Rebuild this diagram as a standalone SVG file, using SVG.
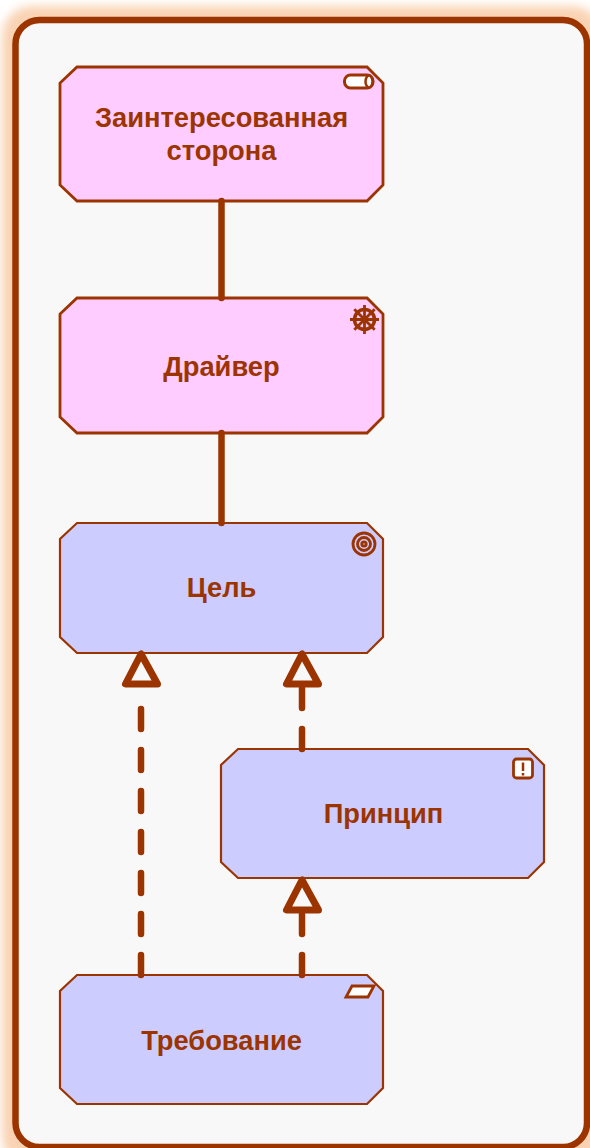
<svg xmlns="http://www.w3.org/2000/svg" width="590" height="1148" viewBox="0 0 590 1148">
<defs>
<style>
.n{stroke:#9C3400;stroke-width:2.5}
.p{fill:#FFCCFF;stroke-width:2.800}
.b{fill:#CCCCFF;stroke-width:2.200}
.t{font-family:"Liberation Sans",Arial,sans-serif;font-weight:bold;font-size:27.300px;fill:#9C3400;text-anchor:middle}
.i{fill:none;stroke:#9C3400;stroke-width:2.800}
.c{fill:none;stroke:#9C3400;stroke-width:6.500;stroke-linecap:round}
.d{stroke-dasharray:20 21}
.a{fill:none;stroke:#9C3400;stroke-width:7;stroke-linejoin:round}
</style>
<filter id="sh" x="-10%" y="-10%" width="120%" height="120%"><feGaussianBlur stdDeviation="5"/></filter>
</defs>
<rect x="2" y="6" width="600" height="1160" rx="30" fill="#F8C8A0" opacity="0.8" filter="url(#sh)"/>
<rect id="frame" x="15.500" y="20" width="571.500" height="1127" rx="24" fill="#F8F8F8" stroke="#9C3400" stroke-width="6.500"/>
<g id="stakeholder">
<path class="n p" d="M77 67H367L383 83V185L367 201H77L60 185V83Z"/>
<rect x="344.500" y="75" width="28.500" height="13" rx="6" fill="#fff" stroke="#9C3400" stroke-width="3"/>
<ellipse cx="369" cy="81.500" rx="3.500" ry="6" fill="#fff" stroke="#9C3400" stroke-width="2.500"/>
<text class="t" x="221.500" y="126.500">Заинтересованная</text>
<text class="t" x="221.500" y="159.500">сторона</text>
</g>
<g id="driver">
<path class="n p" d="M77 298H367L383 314V417L367 433H77L60 417V314Z"/>
<circle cx="364.500" cy="319.500" r="10" fill="none" stroke="#9C3400" stroke-width="3.500"/>
<path d="M364.500 305V334M350 319.500H379M354.300 309.300L374.700 329.700M374.700 309.300L354.300 329.700" fill="none" stroke="#9C3400" stroke-width="2.800"/>
<circle cx="364.500" cy="319.500" r="3.500" fill="#9C3400"/>
<text class="t" x="221.500" y="375.500">Драйвер</text>
</g>
<g id="goal">
<path class="n b" d="M77 523H367L383 539V637L367 653H77L60 637V539Z"/>
<circle class="i" cx="364" cy="544" r="11"/>
<circle class="i" cx="364" cy="544" r="6.500"/>
<circle class="i" cx="364" cy="544" r="2.200"/>
<text class="t" x="221.500" y="596.500">Цель</text>
</g>
<g id="principle">
<path class="n b" d="M238 749H528L544 765V862L528 878H238L221 862V765Z"/>
<rect x="513.500" y="759" width="19" height="19" rx="3" fill="#fff" stroke="#9C3400" stroke-width="2.800"/>
<path d="M523 762.500V771M523 773V775.500" stroke="#9C3400" stroke-width="2.500" fill="none"/>
<text class="t" x="383.500" y="822.500">Принцип</text>
</g>
<g id="requirement">
<path class="n b" d="M77 975H367L383 991V1088L367 1104H77L60 1088V991Z"/>
<path d="M352 986H374L368 997H346Z" fill="#fff" stroke="#9C3400" stroke-width="2.800"/>
<text class="t" x="221.500" y="1049.500">Требование</text>
</g>
<g id="connectors">
<path class="c" d="M221.500 201V298M221.500 433V523"/>
<path class="c d" d="M141 975V689M302 975V910M302 749V686"/>
<path class="a" d="M141 654L125.500 684H157.500Z"/>
<path class="a" d="M302 654L286.500 684H318.500Z"/>
<path class="a" d="M302 880L286.500 910H318.500Z"/>
</g>
</svg>
